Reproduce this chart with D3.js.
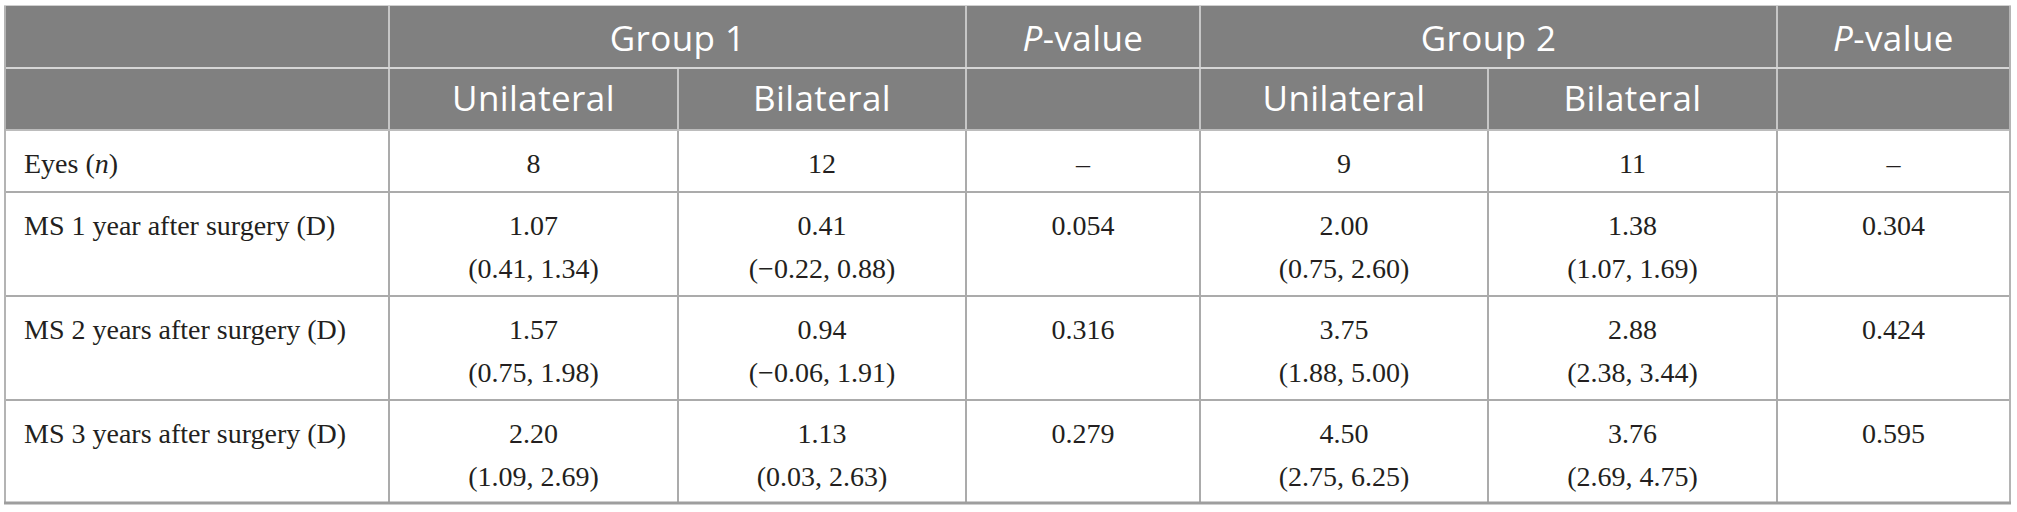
<!DOCTYPE html>
<html>
<head>
<meta charset="utf-8">
<script src="https://cdn.jsdelivr.net/npm/d3@7"></script>
<style>
  body { margin: 0; background: #fff; }
</style>
</head>
<body>
<div id="chart"></div>
<script>
var width = 2017;
var height = 512;

// table content
var groupHeads = ['Group 1', 'P-value', 'Group 2', 'P-value'];
var groupSpans = [2, 1, 2, 1];
var subHeads = ['Unilateral', 'Bilateral', '', 'Unilateral', 'Bilateral', ''];
var rowLabels = ['Eyes (n)', 'MS 1 year after surgery (D)', 'MS 2 years after surgery (D)', 'MS 3 years after surgery (D)'];

var eyes = [8, 12, null, 9, 11, null];

var g1UniMed = [1.07, 1.57, 2.20];
var g1UniLo = [0.41, 0.75, 1.09];
var g1UniHi = [1.34, 1.98, 2.69];

var g1BiMed = [0.41, 0.94, 1.13];
var g1BiLo = [-0.22, -0.06, 0.03];
var g1BiHi = [0.88, 1.91, 2.63];

var p1 = [0.054, 0.316, 0.279];

var g2UniMed = [2.00, 3.75, 4.50];
var g2UniLo = [0.75, 1.88, 2.75];
var g2UniHi = [2.60, 5.00, 6.25];

var g2BiMed = [1.38, 2.88, 3.76];
var g2BiLo = [1.07, 2.38, 2.69];
var g2BiHi = [1.69, 3.44, 4.75];

var p2 = [0.304, 0.424, 0.595];

// layout
var left = 5;
var top0 = 6;
var colWidths = [384, 289, 288, 234, 288, 289, 233];
var rowHeights = [62, 62, 62, 104, 104, 103];

var serif = '"Liberation Serif", "Times New Roman", serif';
var sans = '"Open Sans", "Noto Sans", sans-serif';

document.addEventListener('DOMContentLoaded', init, false);

function init() {

  var svg = d3.select('#chart')
    .append('svg')
      .attr('width', width)
      .attr('height', height);

  var colEdges = [left].concat(Array.from(d3.cumsum(colWidths), function (d) { return d + left; }));
  var rowEdges = [top0].concat(Array.from(d3.cumsum(rowHeights), function (d) { return d + top0; }));

  var x = d3.scaleOrdinal().domain(d3.range(colEdges.length)).range(colEdges);
  var y = d3.scaleOrdinal().domain(d3.range(rowEdges.length)).range(rowEdges);

  var f2 = d3.format('.2f');
  var f3 = d3.format('.3f');

  // build body cells from the arrays
  var cols = [
    { med: g1UniMed, lo: g1UniLo, hi: g1UniHi },
    { med: g1BiMed, lo: g1BiLo, hi: g1BiHi },
    { p: p1 },
    { med: g2UniMed, lo: g2UniLo, hi: g2UniHi },
    { med: g2BiMed, lo: g2BiLo, hi: g2BiHi },
    { p: p2 }
  ];

  var cells = [];
  cols.forEach(function (c, ci) {
    cells.push({ row: 2, col: ci + 1, l1: eyes[ci] == null ? '–' : String(eyes[ci]), l2: '' });
    for (var r = 0; r < 3; r++) {
      if (c.p) {
        cells.push({ row: r + 3, col: ci + 1, l1: f3(c.p[r]), l2: '' });
      } else {
        cells.push({ row: r + 3, col: ci + 1, l1: f2(c.med[r]), l2: '(' + f2(c.lo[r]) + ', ' + f2(c.hi[r]) + ')' });
      }
    }
  });

  // header background
  svg.append('rect')
    .attr('x', x(0))
    .attr('y', y(0))
    .attr('width', x(7) - x(0))
    .attr('height', y(2) - y(0))
    .attr('fill', '#808080');

  // body lines
  var bodyLine = '#ababab';
  svg.append('g')
    .selectAll('line')
    .data(d3.range(1, 7))
    .enter()
    .append('line')
      .attr('x1', function (d) { return x(d); })
      .attr('x2', function (d) { return x(d); })
      .attr('y1', y(2))
      .attr('y2', y(6))
      .attr('stroke', bodyLine)
      .attr('stroke-width', 2);

  svg.append('g')
    .selectAll('line')
    .data([3, 4, 5])
    .enter()
    .append('line')
      .attr('x1', x(0))
      .attr('x2', x(7))
      .attr('y1', function (d) { return y(d); })
      .attr('y2', function (d) { return y(d); })
      .attr('stroke', bodyLine)
      .attr('stroke-width', 2);

  // header lines
  var headStarts = [1];
  groupSpans.forEach(function (s, i) { headStarts.push(headStarts[i] + s); });

  svg.append('g')
    .selectAll('line')
    .data(headStarts.slice(0, 4))
    .enter()
    .append('line')
      .attr('x1', function (d) { return x(d); })
      .attr('x2', function (d) { return x(d); })
      .attr('y1', y(0))
      .attr('y2', y(2))
      .attr('stroke', '#c6c6c6')
      .attr('stroke-width', 2);

  svg.append('g')
    .selectAll('line')
    .data([2, 5])
    .enter()
    .append('line')
      .attr('x1', function (d) { return x(d); })
      .attr('x2', function (d) { return x(d); })
      .attr('y1', y(1))
      .attr('y2', y(2))
      .attr('stroke', '#c6c6c6')
      .attr('stroke-width', 2);

  svg.append('line')
    .attr('x1', x(0)).attr('x2', x(7))
    .attr('y1', y(1)).attr('y2', y(1))
    .attr('stroke', '#d6d6d6')
    .attr('stroke-width', 2);

  svg.append('line')
    .attr('x1', x(0)).attr('x2', x(7))
    .attr('y1', y(2)).attr('y2', y(2))
    .attr('stroke', '#bcbcbc')
    .attr('stroke-width', 2);

  // outer frame
  svg.append('line')
    .attr('x1', x(0) - 1).attr('x2', x(7) + 1)
    .attr('y1', y(0) - 0.5).attr('y2', y(0) - 0.5)
    .attr('stroke', '#cfcfcf')
    .attr('stroke-width', 1);

  svg.append('g')
    .selectAll('line')
    .data([0, 7])
    .enter()
    .append('line')
      .attr('x1', function (d) { return x(d); })
      .attr('x2', function (d) { return x(d); })
      .attr('y1', y(0))
      .attr('y2', y(6))
      .attr('stroke', '#b4b4b4')
      .attr('stroke-width', 2);

  svg.append('line')
    .attr('x1', x(0) - 1).attr('x2', x(7) + 1)
    .attr('y1', y(6)).attr('y2', y(6))
    .attr('stroke', '#9e9e9e')
    .attr('stroke-width', 3);

  // header text
  var heads = svg.append('g')
    .attr('font-family', sans)
    .attr('font-size', 35)
    .attr('letter-spacing', 0.4)
    .attr('fill', '#fff')
    .attr('text-anchor', 'middle');

  heads.selectAll('text.group')
    .data(groupHeads)
    .enter()
    .append('text')
      .attr('class', 'group')
      .attr('x', function (d, i) { return (x(headStarts[i]) + x(headStarts[i + 1])) / 2; })
      .attr('y', y(0) + 45)
      .each(function (d) {
        var t = d3.select(this);
        if (d.indexOf('P-') == 0) {
          t.append('tspan').attr('font-style', 'italic').text('P');
          t.append('tspan').text(d.slice(1));
        } else {
          t.text(d);
        }
      });

  heads.selectAll('text.sub')
    .data(subHeads)
    .enter()
    .append('text')
      .attr('class', 'sub')
      .attr('x', function (d, i) { return (x(i + 1) + x(i + 2)) / 2; })
      .attr('y', y(1) + 43)
      .text(function (d) { return d; });

  // row labels
  var labels = svg.append('g')
    .attr('font-family', serif)
    .attr('font-size', 28)
    .attr('fill', '#231f20');

  labels.selectAll('text')
    .data(rowLabels)
    .enter()
    .append('text')
      .attr('x', x(0) + 19)
      .attr('y', function (d, i) { return y(i + 2) + 43; })
      .each(function (d) {
        var t = d3.select(this);
        var m = d.match(/^(.*\()n(\).*)$/);
        if (m) {
          t.append('tspan').text(m[1]);
          t.append('tspan').attr('font-style', 'italic').text('n');
          t.append('tspan').text(m[2]);
        } else {
          t.text(d);
        }
      });

  // body values
  var body = svg.append('g')
    .attr('font-family', serif)
    .attr('font-size', 28)
    .attr('fill', '#231f20')
    .attr('text-anchor', 'middle');

  var cell = body.selectAll('g')
    .data(cells)
    .enter()
    .append('g')
      .attr('transform', function (d) {
        return 'translate(' + (x(d.col) + x(d.col + 1)) / 2 + ',' + y(d.row) + ')';
      });

  cell.append('text')
    .attr('y', 43)
    .text(function (d) { return d.l1; });

  cell.append('text')
    .attr('y', 86)
    .text(function (d) { return d.l2; });
}
</script>
</body>
</html>
